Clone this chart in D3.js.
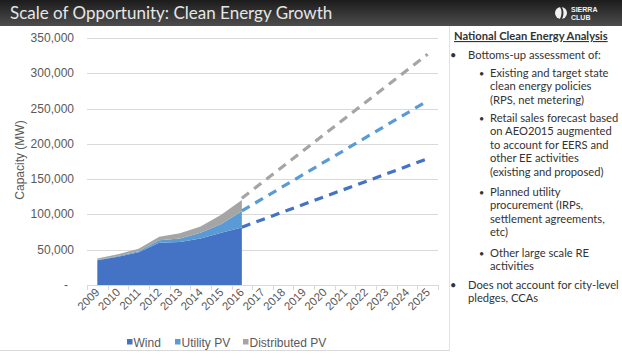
<!DOCTYPE html>
<html>
<head>
<meta charset="utf-8">
<script src="https://cdn.jsdelivr.net/npm/d3@7"></script>
<style>
  html, body { margin: 0; padding: 0; background: #fff; }
  svg { display: block; }
</style>
</head>
<body>
<svg id="slide" width="622" height="358"></svg>
<script>
// historical capacity by technology (MW)
const years = ["2009", "2010", "2011", "2012", "2013", "2014", "2015", "2016"];
const wind = [35000, 40000, 46500, 60000, 61000, 66000, 74000, 81500];
const utilityPV = [500, 1000, 1500, 3500, 5000, 8000, 12500, 23000];
const distributedPV = [2000, 2500, 3500, 5000, 7500, 9000, 13000, 16000];

// all categories on the axis
const axisYears = ["2009", "2010", "2011", "2012", "2013", "2014", "2015", "2016", "2017",
  "2018", "2019", "2020", "2021", "2022", "2023", "2024", "2025"];

// projected cumulative totals (dashed)
const projYears = ["2016", "2025"];
const projWind = [82000, 179000];
const projWindUtility = [105000, 261000];
const projAll = [123000, 327000];

const yTicks = [0, 50000, 100000, 150000, 200000, 250000, 300000, 350000];
const legendLabels = ["Wind", "Utility PV", "Distributed PV"];
const colors = ["#4472C4", "#5B9BD5", "#A5A5A5"];

const notes = [
  { level: 1, lines: ["Bottoms-up assessment of:"] },
  { level: 2, lines: ["Existing and target state", "clean energy policies", "(RPS, net metering)"] },
  { level: 2, lines: ["Retail sales forecast based", "on AEO2015 augmented", "to account for EERS and", "other EE activities", "(existing and proposed)"] },
  { level: 2, lines: ["Planned utility", "procurement (IRPs,", "settlement agreements,", "etc)"] },
  { level: 2, lines: ["Other large scale RE", "activities"] },
  { level: 1, lines: ["Does not account for city-level", "pledges, CCAs"] }
];

const svg = d3.select("#slide");
const chartFont = "'Liberation Sans', Arial, sans-serif";
const textFont = "Lato, 'Open Sans', sans-serif";

// title bar
const defs = svg.append("defs");
const grad = defs.append("linearGradient").attr("id", "titleGrad")
  .attr("x1", 0).attr("y1", 0).attr("x2", 0).attr("y2", 1);
grad.append("stop").attr("offset", "0%").attr("stop-color", "#1c1c1c");
grad.append("stop").attr("offset", "100%").attr("stop-color", "#4d4d4d");
svg.append("rect").attr("x", 0).attr("y", 0).attr("width", 622).attr("height", 26).attr("fill", "url(#titleGrad)");
svg.append("text").attr("x", 10).attr("y", 19)
  .attr("font-family", textFont).attr("font-size", 17).attr("fill", "#e6e6e6")
  .text("Scale of Opportunity: Clean Energy Growth");

// logo
const logo = svg.append("g").attr("transform", "translate(561,13)");
logo.append("circle").attr("r", 6).attr("fill", "#f2f2f2");
logo.append("path").attr("d", "M-1,-6 Q2,-1 -1,6 L1,6 Q4,0 1,-6 Z").attr("fill", "#333");
logo.append("text").attr("x", 10).attr("y", -1).attr("font-family", chartFont).attr("font-weight", "bold")
  .attr("font-size", 7).attr("fill", "#f2f2f2").text("SIERRA");
logo.append("text").attr("x", 10).attr("y", 6.5).attr("font-family", chartFont).attr("font-weight", "bold")
  .attr("font-size", 7).attr("fill", "#f2f2f2").text("CLUB");

// chart frame
svg.append("line").attr("x1", 0).attr("x2", 449).attr("y1", 350.5).attr("y2", 350.5).attr("stroke", "#d9d9d9");
svg.append("line").attr("x1", 449.5).attr("x2", 449.5).attr("y1", 26).attr("y2", 351).attr("stroke", "#e3e3e3");

// scales
const x = d3.scaleBand().domain(axisYears).range([87, 438]).padding(0);
const cx = d => x(d) + x.bandwidth() / 2;
const y = d3.scaleLinear().domain([0, 350000]).range([285, 38]);

// gridlines
svg.append("g").selectAll("line").data(yTicks.filter(d => d > 0)).join("line")
  .attr("x1", 87).attr("x2", 438)
  .attr("y1", d => Math.round(y(d)) + 0.5).attr("y2", d => Math.round(y(d)) + 0.5)
  .attr("stroke", "#d9d9d9");

// y labels
const fmt = d3.format(",");
svg.append("g").selectAll("text").data(yTicks).join("text")
  .attr("x", d => d === 0 ? 68 : 74).attr("y", d => y(d) + 4)
  .attr("text-anchor", "end").attr("font-family", chartFont).attr("font-size", 12).attr("fill", "#595959")
  .text(d => d === 0 ? "-" : fmt(d));

svg.append("text").attr("transform", "translate(24,160) rotate(-90)")
  .attr("text-anchor", "middle").attr("font-family", chartFont).attr("font-size", 12).attr("fill", "#595959")
  .text("Capacity (MW)");

// stacked areas
const rows = years.map((yr, i) => ({ year: yr, wind: wind[i], utility: utilityPV[i], dist: distributedPV[i] }));
const stack = d3.stack().keys(["wind", "utility", "dist"])(rows);
const area = d3.area()
  .x(d => cx(d.data.year))
  .y0(d => y(d[0]))
  .y1(d => y(d[1]));
svg.append("g").selectAll("path").data(stack).join("path")
  .attr("d", area)
  .attr("fill", (d, i) => colors[i]);

// projections
const line = d3.line().x(d => cx(d[0])).y(d => y(d[1]));
[projWind, projWindUtility, projAll].forEach((vals, i) => {
  svg.append("path")
    .datum(projYears.map((yr, j) => [yr, vals[j]]))
    .attr("d", line)
    .attr("fill", "none")
    .attr("stroke", colors[i])
    .attr("stroke-width", 3.2)
    .attr("stroke-dasharray", "9,6.5");
});

// x axis
const xAxis = svg.append("g");
xAxis.append("line").attr("x1", 87).attr("x2", 438).attr("y1", 285.5).attr("y2", 285.5).attr("stroke", "#d9d9d9");
xAxis.selectAll("line.tick").data(axisYears.concat(["end"])).join("line")
  .attr("class", "tick")
  .attr("x1", (d, i) => Math.round(87 + i * x.bandwidth()) + 0.5)
  .attr("x2", (d, i) => Math.round(87 + i * x.bandwidth()) + 0.5)
  .attr("y1", 285).attr("y2", 290)
  .attr("stroke", "#d9d9d9");
xAxis.selectAll("text").data(axisYears).join("text")
  .attr("transform", d => `translate(${cx(d) + 3},${293}) rotate(-45)`)
  .attr("text-anchor", "end").attr("font-family", chartFont).attr("font-size", 11.5).attr("fill", "#595959")
  .text(d => d);

// legend
const legendX = [127, 175, 243];
const legend = svg.append("g").selectAll("g").data(legendLabels).join("g")
  .attr("transform", (d, i) => `translate(${legendX[i]},343)`);
legend.append("rect").attr("x", 0).attr("y", -4).attr("width", 5.5).attr("height", 5.5).attr("fill", (d, i) => colors[i]);
legend.append("text").attr("x", 6.5).attr("y", 4).attr("font-family", chartFont).attr("font-size", 12).attr("fill", "#595959")
  .text(d => d);

// notes panel
const panel = svg.append("g").attr("font-family", textFont).attr("font-size", 11.2).attr("fill", "#333");
panel.append("text").attr("x", 454).attr("y", 40).attr("font-weight", "bold")
  .attr("text-decoration", "underline").text("National Clean Energy Analysis");

const lineH = 13.4;
const blockStarts = [59, 77, 122, 196, 257, 289];
notes.forEach((note, k) => {
  const bx = note.level === 1 ? 450 : 479;
  const tx = note.level === 1 ? 468 : 490;
  panel.append("text").attr("x", bx).attr("y", blockStarts[k]).attr("font-size", note.level === 1 ? 11 : 9).text("\u2022");
  note.lines.forEach((ln, j) => {
    panel.append("text").attr("x", tx).attr("y", blockStarts[k] + j * lineH).text(ln);
  });
});
</script>
</body>
</html>
